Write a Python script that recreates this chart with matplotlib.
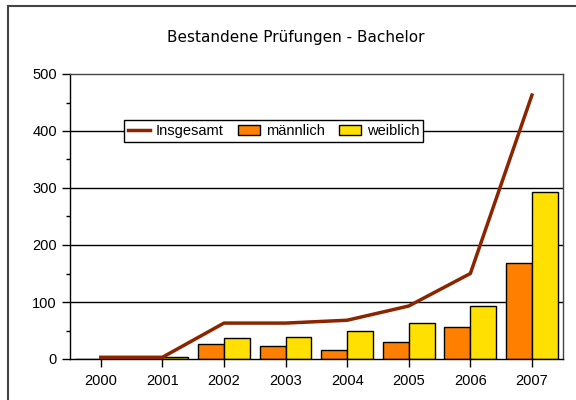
import numpy as np
import matplotlib.pyplot as plt
from matplotlib.ticker import MultipleLocator

plt.rcParams['font.family'] = ['Liberation Sans', 'DejaVu Sans']

years = ["2000", "2001", "2002", "2003", "2004", "2005", "2006", "2007"]
insgesamt = [3, 3, 63, 63, 68, 93, 150, 463]
maennlich = [0, 0, 26, 23, 16, 30, 57, 168]
weiblich = [0, 3, 37, 38, 50, 63, 93, 293]

x = np.arange(len(years))
w = 0.42

fig = plt.figure(figsize=(5.76, 4), dpi=100)
ax = fig.add_axes([0.1215, 0.1025, 0.8555, 0.7125])

for y in [100, 200, 300, 400]:
    ax.axhline(y, color="black", lw=1.0, zorder=1)

b1 = ax.bar(x - w / 2, maennlich, w, color="#FF8000", edgecolor="black", lw=1.0, label="männlich", zorder=2)
b2 = ax.bar(x + w / 2, weiblich, w, color="#FFE000", edgecolor="black", lw=1.0, label="weiblich", zorder=2)
l1, = ax.plot(x, insgesamt, color="#8B2500", lw=2.5, label="Insgesamt", zorder=3)

ax.set_xlim(-0.5, 7.5)
ax.set_ylim(0, 500)
ax.set_xticks(x)
ax.set_xticklabels(years)
ax.yaxis.set_major_locator(MultipleLocator(100))
ax.yaxis.set_minor_locator(MultipleLocator(50))
ax.tick_params(axis="y", which="major", length=6, width=1, direction="out", labelsize=10.5)
ax.tick_params(axis="y", which="minor", length=3, width=1, direction="out")
ax.tick_params(axis="x", length=6, width=1, direction="out", labelsize=10.5, pad=5)
for s in ax.spines.values():
    s.set_linewidth(1.0)
ax.spines["top"].set_color("#444444")
ax.spines["right"].set_color("#444444")

leg = ax.legend(handles=[l1, b1, b2], loc="center left", bbox_to_anchor=(0.11, 0.8),
                ncol=3, frameon=True, fancybox=False, edgecolor="black", framealpha=1,
                fontsize=10.5, handlelength=1.5, handletextpad=0.4, columnspacing=1.0,
                borderpad=0.25, borderaxespad=0)
leg.get_frame().set_linewidth(1.0)

fig.text(0.514, 0.907, "Bestandene Prüfungen - Bachelor", ha="center", va="center",
         fontsize=11, family="DejaVu Sans")

fig.patches.append(plt.Rectangle((0.014, -0.05), 1.0, 1.035, transform=fig.transFigure,
                                 fill=False, edgecolor="#444444", lw=1.5))

fig.savefig("out.png", dpi=100)
